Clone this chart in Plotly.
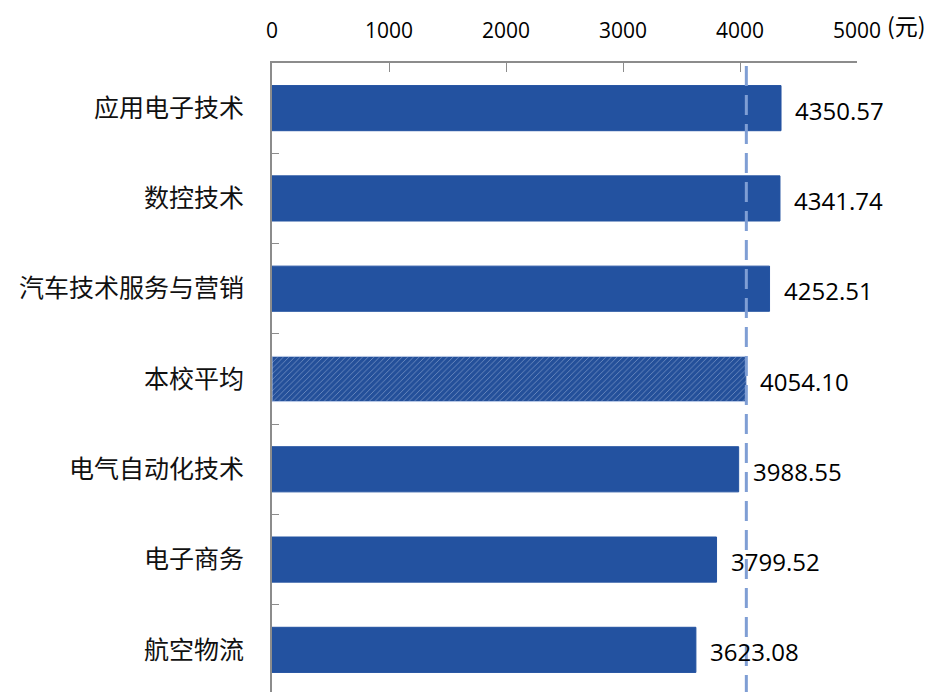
import plotly.graph_objects as go

categories = ["应用电子技术", "数控技术", "汽车技术服务与营销", "本校平均", "电气自动化技术", "电子商务", "航空物流"]
values = [4350.57, 4341.74, 4252.51, 4054.10, 3988.55, 3799.52, 3623.08]
avg_value = 4054.10
x_ticks = [0, 1000, 2000, 3000, 4000, 5000]
unit_label = "(元)"

BLUE = "#2352A0"
shapes_pat = ["/" if c == "本校平均" else "" for c in categories]

fig = go.Figure()
fig.add_trace(go.Bar(
    y=categories, x=values, orientation="h",
    width=0.5,
    marker=dict(
        color=BLUE,
        line=dict(color=["#B8C8E6" if c == "本校平均" else BLUE for c in categories], width=1),
        pattern=dict(shape=shapes_pat, fgcolor="#C9D6EE", bgcolor="#24509A", size=4, solidity=0.2, fillmode="overlay"),
    ),
    hoverinfo="skip",
))

for c, v in zip(categories, values):
    fig.add_annotation(x=v, y=c, xref="x", yref="y", text=f"{v:.2f}", showarrow=False,
                       xanchor="left", yanchor="middle", xshift=12, yshift=-2,
                       font=dict(family="Open Sans, Liberation Sans, sans-serif", size=24, color="#000000"))

fig.add_shape(type="line", xref="x", yref="paper", x0=avg_value, x1=avg_value, y0=0, y1=1,
              line=dict(color="#7F9ED4", width=3, dash="20px,9px"), layer="above")

fig.add_annotation(xref="paper", yref="paper", x=1.0, y=1.0, xanchor="left", yanchor="middle",
                   xshift=28, yshift=38, text=unit_label, showarrow=False,
                   font=dict(family="Noto Sans CJK SC", size=23, color="#000000"))

fig.update_layout(
    width=937, height=692,
    margin=dict(l=264, r=88, t=55, b=5, autoexpand=False),
    plot_bgcolor="white", paper_bgcolor="white",
    showlegend=False,
    xaxis=dict(side="top", range=[0, 5000], tickvals=x_ticks, ticks="inside", ticklen=9,
               tickcolor="#8C8C8C", showline=True, linecolor="#8C8C8C", linewidth=2,
               showgrid=False, zeroline=False, ticklabelstandoff=15, automargin=False,
               tickfont=dict(family="Open Sans, Liberation Sans, sans-serif", size=21, color="#000000")),
    yaxis=dict(autorange="reversed", ticks="inside", ticklen=7, tickson="boundaries",
               tickcolor="#8C8C8C", showline=True, linecolor="#8C8C8C", linewidth=2,
               showgrid=False, ticklabelstandoff=21, automargin=False,
               tickfont=dict(family="Noto Sans CJK SC", size=25, color="#111111")),
    bargap=0.5,
)

fig.write_html("out.html")
